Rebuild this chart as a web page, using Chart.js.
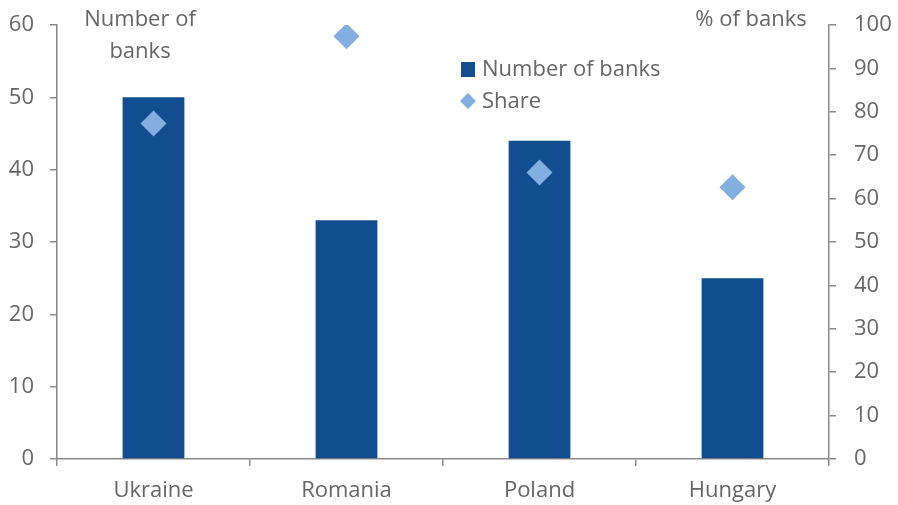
<!DOCTYPE html>
<html>
<head>
<meta charset="utf-8">
<script src="https://cdn.jsdelivr.net/npm/chart.js@4"></script>
<style>
    html, body { margin: 0; padding: 0; background: #ffffff; }
    #wrap { width: 898px; height: 505px; }
</style>
</head>
<body>
<div id="wrap"><canvas id="myChart"></canvas></div>
<script>
// countries on the x-axis
const countries = ['Ukraine', 'Romania', 'Poland', 'Hungary'];
// number of banks (left axis)
const bankCounts = [50, 33, 44, 25];
// share of banks, % (right axis)
const bankShare = [77.3, 97.4, 66, 62.6];

const barColor = '#114D8F';
const diamondColor = '#82AEE0';
const textColor = '#666666';
const axisColor = '#8a8a8a';
const fontFamily = '"Open Sans", "Liberation Sans", sans-serif';

// axis titles and legend drawn straight onto the canvas
const extrasPlugin = {
    id: 'extras',
    afterDraw(chart) {
        const ctx = chart.ctx;
        ctx.save();
        ctx.fillStyle = textColor;
        ctx.font = '22px ' + fontFamily;
        ctx.textBaseline = 'middle';
        ctx.textAlign = 'center';
        ctx.fillText('Number of', 140, 20);
        ctx.fillText('banks', 140, 52);
        ctx.fillText('% of banks', 751, 20);

        // legend
        ctx.textAlign = 'left';
        ctx.fillStyle = barColor;
        ctx.fillRect(461, 62, 14, 15);
        ctx.fillStyle = diamondColor;
        ctx.beginPath();
        ctx.moveTo(468, 93);
        ctx.lineTo(476, 101);
        ctx.lineTo(468, 109);
        ctx.lineTo(460, 101);
        ctx.closePath();
        ctx.fill();
        ctx.fillStyle = textColor;
        ctx.fillText('Number of banks', 482, 70);
        ctx.fillText('Share', 482, 102);
        ctx.restore();
    }
};

// keep the plot area fixed: no extra room reserved for edge labels
function fixWidth(w) {
    return function(scale) {
        scale.width = w;
        scale.paddingTop = 0;
        scale.paddingBottom = 0;
    };
}

const ctx = document.getElementById('myChart');
new Chart(ctx, {
    data: {
        labels: countries,
        datasets: [
            {
                type: 'line',
                label: 'Share',
                data: bankShare,
                yAxisID: 'y1',
                showLine: false,
                pointStyle: 'rectRot',
                pointRadius: 13,
                pointHoverRadius: 13,
                pointBackgroundColor: diamondColor,
                pointBorderColor: diamondColor,
                pointBorderWidth: 0,
                order: 0
            },
            {
                type: 'bar',
                label: 'Number of banks',
                data: bankCounts,
                yAxisID: 'y',
                backgroundColor: barColor,
                categoryPercentage: 1,
                barPercentage: 0.32,
                order: 1
            }
        ]
    },
    options: {
        responsive: true,
        maintainAspectRatio: false,
        animation: false,
        layout: { padding: { top: 25, left: 0, right: 0, bottom: 0 } },
        plugins: {
            legend: { display: false },
            tooltip: { enabled: false }
        },
        scales: {
            x: {
                offset: true,
                afterFit(scale) {
                    scale.height = 46;
                    scale.paddingLeft = 0;
                    scale.paddingRight = 0;
                },
                grid: {
                    offset: true,
                    drawOnChartArea: false,
                    drawTicks: true,
                    tickLength: 7,
                    color: axisColor,
                    lineWidth: 1.5
                },
                border: { display: true, color: axisColor, width: 1.5 },
                ticks: {
                    color: textColor,
                    font: { family: fontFamily, size: 22 },
                    padding: 12
                }
            },
            y: {
                position: 'left',
                min: 0,
                max: 60,
                afterFit: fixWidth(57),
                grid: {
                    drawOnChartArea: false,
                    drawTicks: true,
                    tickLength: 7,
                    color: axisColor,
                    lineWidth: 1.5
                },
                border: { display: true, color: axisColor, width: 1.5 },
                ticks: {
                    stepSize: 10,
                    color: textColor,
                    font: { family: fontFamily, size: 22 },
                    padding: 16
                }
            },
            y1: {
                position: 'right',
                min: 0,
                max: 100,
                afterFit: fixWidth(69),
                grid: {
                    drawOnChartArea: false,
                    drawTicks: true,
                    tickLength: 7,
                    color: axisColor,
                    lineWidth: 1.5
                },
                border: { display: true, color: axisColor, width: 1.5 },
                ticks: {
                    stepSize: 10,
                    color: textColor,
                    font: { family: fontFamily, size: 22 },
                    padding: 18
                }
            }
        }
    },
    plugins: [extrasPlugin]
});
</script>
</body>
</html>
